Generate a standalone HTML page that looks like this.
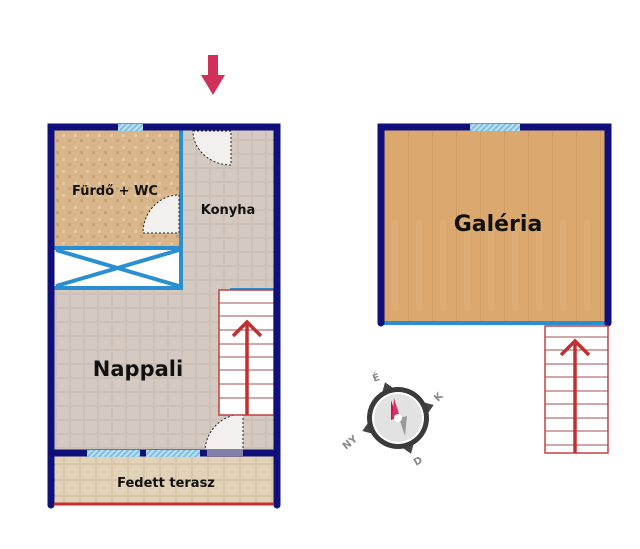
<!DOCTYPE html>
<html><head><meta charset="utf-8"><style>body{margin:0;background:#fff}svg{display:block}text{font-family:"DejaVu Sans","Liberation Sans",sans-serif;font-weight:bold}</style></head><body>
<svg width="640" height="549" viewBox="0 0 640 549">
<defs>
<pattern id="tile" width="14" height="14" patternUnits="userSpaceOnUse"><rect width="14" height="14" fill="#cdc1b7"/><rect x="1" y="1" width="12" height="12" fill="#d5cac1"/></pattern>
<pattern id="bath" width="12" height="12" patternUnits="userSpaceOnUse"><rect width="12" height="12" fill="#d9b58a"/><rect x="2" y="2" width="3" height="3" fill="#e6c9a3"/><rect x="8" y="7" width="3" height="3" fill="#c9a178"/></pattern>
<pattern id="ter" width="16" height="16" patternUnits="userSpaceOnUse"><rect width="16" height="16" fill="#d7c6a8"/><rect x="1" y="1" width="14" height="14" fill="#e2d3b8"/></pattern>
<pattern id="wood" width="24" height="200" patternUnits="userSpaceOnUse"><rect width="24" height="200" fill="#dba870"/><rect x="0" width="1" height="200" fill="#cf9c64"/><rect x="8" y="20" width="6" height="90" fill="#e2b27c" opacity=".5"/></pattern>
<pattern id="win" width="4" height="4" patternUnits="userSpaceOnUse" patternTransform="rotate(45)"><rect width="4" height="4" fill="#bfe0f0"/><rect width="2" height="4" fill="#7fbfe0"/></pattern>
</defs>
<path d="M208 55h10v20h7l-12 20-12-20h7z" fill="#d0305a"/>
<rect x="54" y="130" width="220" height="320" fill="url(#tile)"/>
<rect x="54" y="130" width="126" height="116" fill="url(#bath)"/>
<rect x="54" y="248" width="126" height="40" fill="#fff"/>
<rect x="54" y="456" width="220" height="47" fill="url(#ter)"/>
<g stroke="#2a8fd0" stroke-width="4" fill="none">
<line x1="181" y1="130" x2="181" y2="290"/>
<line x1="54" y1="248" x2="181" y2="248"/>
<line x1="54" y1="288" x2="181" y2="288"/>
<line x1="56" y1="250" x2="179" y2="286"/><line x1="56" y1="286" x2="179" y2="250"/>
<line x1="230" y1="290" x2="274" y2="290"/>
</g>
<g fill="#f2f0ee" stroke="#222" stroke-width="1" stroke-dasharray="2,2">
<path d="M193 131 h38 v34 a38 34 0 0 1 -38 -34z"/>
<path d="M179 195 v38 h-36 a36 38 0 0 1 36 -38z"/>
<path d="M243 414 v38 h-38 a38 38 0 0 1 38 -38z"/>
</g>
<rect x="219" y="290" width="55" height="125" fill="#fff" stroke="#c04040" stroke-width="1.5"/>
<g stroke="#a05050" stroke-width="1"><line x1="219" y1="303" x2="274" y2="303"/><line x1="219" y1="316" x2="274" y2="316"/><line x1="219" y1="330" x2="274" y2="330"/><line x1="219" y1="344" x2="274" y2="344"/><line x1="219" y1="357" x2="274" y2="357"/><line x1="219" y1="370" x2="274" y2="370"/><line x1="219" y1="384" x2="274" y2="384"/><line x1="219" y1="398" x2="274" y2="398"/></g>
<g stroke="#c03030" stroke-width="3.5" fill="none"><line x1="247" y1="415" x2="247" y2="322"/><path d="M233 336 L247 322 L261 336"/></g>
<g stroke="#10107a" stroke-width="7" stroke-linecap="round" fill="none">
<path d="M51 505 V127 H277 V505"/>
<line x1="51" y1="453" x2="277" y2="453"/>
</g>
<rect x="118" y="124" width="25" height="7" fill="url(#win)"/>
<rect x="87" y="450" width="53" height="7" fill="url(#win)"/>
<rect x="146" y="450" width="54" height="7" fill="url(#win)"/>
<rect x="207" y="450" width="36" height="6" fill="#8080a8"/>
<line x1="54" y1="504" x2="274" y2="504" stroke="#c03030" stroke-width="3"/>
<text x="115" y="195" font-size="13" text-anchor="middle" fill="#111">Fürdő + WC</text>
<text x="228" y="214" font-size="13" text-anchor="middle" fill="#111">Konyha</text>
<text x="138" y="376" font-size="21" text-anchor="middle" fill="#111">Nappali</text>
<text x="166" y="487" font-size="13" text-anchor="middle" fill="#111">Fedett terasz</text>
<rect x="384" y="130" width="221" height="193" fill="url(#wood)"/>
<line x1="384" y1="323" x2="605" y2="323" stroke="#2a8fd0" stroke-width="4"/>
<g stroke="#10107a" stroke-width="7" stroke-linecap="round" fill="none"><path d="M381 323 V127 H608 V323"/></g>
<rect x="470" y="124" width="50" height="7" fill="url(#win)"/>
<text x="498" y="231" font-size="22" text-anchor="middle" fill="#111">Galéria</text>
<rect x="545" y="326" width="63" height="127" fill="#fff" stroke="#c04040" stroke-width="1.5"/>
<g stroke="#a05050" stroke-width="1"><line x1="545" y1="337" x2="608" y2="337"/><line x1="545" y1="350" x2="608" y2="350"/><line x1="545" y1="364" x2="608" y2="364"/><line x1="545" y1="377" x2="608" y2="377"/><line x1="545" y1="391" x2="608" y2="391"/><line x1="545" y1="404" x2="608" y2="404"/><line x1="545" y1="418" x2="608" y2="418"/><line x1="545" y1="431" x2="608" y2="431"/><line x1="545" y1="445" x2="608" y2="445"/></g>
<g stroke="#c03030" stroke-width="3.5" fill="none"><line x1="575" y1="453" x2="575" y2="341"/><path d="M561 355 L575 341 L589 355"/></g>
<g transform="translate(398,418)">
<g transform="rotate(-20)" fill="#444"><path d="M-7 -28 L0 -38 L7 -28z"/><path d="M28 -7 L38 0 L28 7z"/><path d="M-28 -7 L-38 0 L-28 7z"/><path d="M-7 28 L0 38 L7 28z"/></g>
<circle r="31" fill="#3a3a3a"/><circle r="26" fill="#fff"/><circle r="24" fill="#e2e2e2"/>
<path d="M-7 -18 L-1 0 L-7 2z" fill="#c8104a"/><path d="M-4 -20 L2 -1 L-6 1z" fill="#d8306a"/>
<path d="M7 18 L1 0 L9 -2z" fill="#999"/>
<circle cx="0" cy="0" r="4" fill="#fff"/>
<text x="-24" y="-36" font-size="10" fill="#888" transform="rotate(-20 -24 -36)">É</text>
<text x="40" y="-16" font-size="10" fill="#888" transform="rotate(-45 40 -16)">K</text>
<text x="-52" y="32" font-size="10" fill="#888" transform="rotate(-40 -52 32)">NY</text>
<text x="18" y="48" font-size="10" fill="#888" transform="rotate(-30 18 48)">D</text>
</g>
</svg>
</body></html>
